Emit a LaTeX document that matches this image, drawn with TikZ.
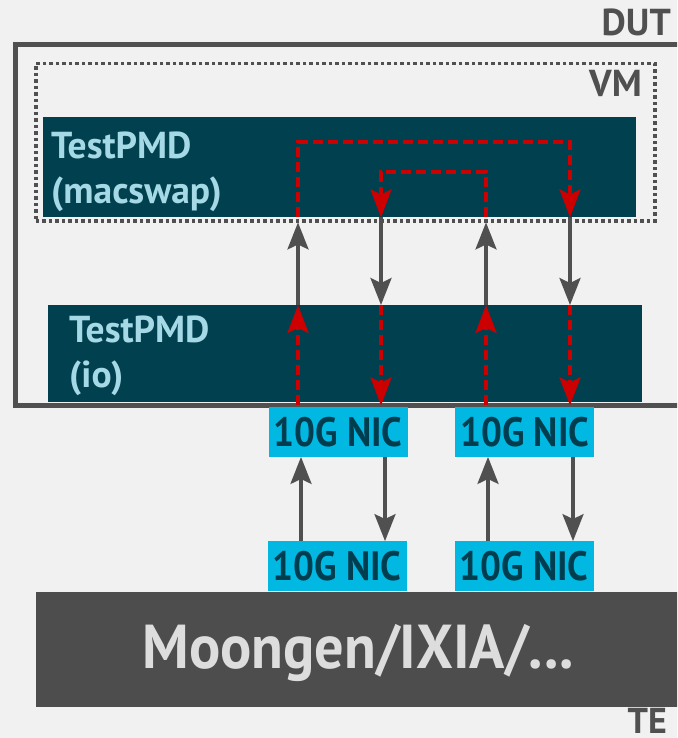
\documentclass[tikz,border=0pt]{standalone}
\usepackage{fontspec}
\setmainfont{PT Sans}
\usetikzlibrary{arrows.meta}
\definecolor{bgc}{HTML}{F1F1F1}
\definecolor{framec}{HTML}{505050}
\definecolor{tealc}{HTML}{01404F}
\definecolor{ltblue}{HTML}{A6D9E6}
\definecolor{cyanc}{HTML}{00B8E2}
\definecolor{nictext}{HTML}{003E4F}
\definecolor{redc}{HTML}{CC0000}
\definecolor{moonc}{HTML}{4D4D4D}
\definecolor{moontext}{HTML}{DDDDDD}
\newcommand{\nictxt}{\scalebox{0.9}[1]{10G NIC}}
\tikzset{
  pmdbox/.style={fill=tealc, draw=none, inner sep=0pt, anchor=north west},
  pmdtext/.style={text=ltblue, font=\bfseries\fontsize{37.5}{40}\selectfont, anchor=base west, inner sep=0pt},
  nicbox/.style={fill=cyanc, draw=none, inner sep=0pt, text=nictext, font=\bfseries\fontsize{41}{44}\selectfont, minimum width=139pt, minimum height=50pt},
  lbl/.style={text=framec, font=\bfseries\fontsize{37.5}{40}\selectfont, anchor=base east, inner sep=0pt},
  grayarrow/.style={draw=framec, line width=3.5pt, -{Stealth[length=27pt,width=21pt,inset=5pt]}},
  redarrow/.style={draw=redc, line width=3.5pt, dash pattern=on 10pt off 5pt, -{Stealth[length=28pt,width=21pt,inset=5pt]}},
}
\begin{document}
\begin{tikzpicture}[x=1pt,y=-1pt]
\useasboundingbox (0,0) rectangle (677,738);
\fill[bgc] (0,0) rectangle (677,738);
\clip (0,0) rectangle (677,738);
% DUT frame
\node[draw=framec, line width=5pt, inner sep=0pt, minimum width=700pt, minimum height=361pt, anchor=north west] (dut) at (13,42) {};
\node[lbl] (dutl) at (671,36) {DUT};
% PMD boxes
\node[pmdbox, minimum width=593pt, minimum height=100pt] (mac) at (43,117) {};
\node[pmdbox, minimum width=594pt, minimum height=97pt] (io) at (47.5,305) {};
% VM dotted
\node[draw=framec, line width=3.5pt, dash pattern=on 3.5pt off 3pt, inner sep=0pt, minimum width=619pt, minimum height=157pt, anchor=north west] (vm) at (34,62) {};
\node[lbl] (vml) at (642,97) {VM};
% texts
\node[pmdtext] (mac1) at (51,159) {TestPMD};
\node[pmdtext] (mac2) at (51,203) {(macswap)};
\node[pmdtext] (io1) at (69,342) {TestPMD};
\node[pmdtext] (io2) at (69,387) {(io)};
% NICs
\node[nicbox] (nic1) at (338,431.7) {\nictxt};
\node[nicbox] (nic2) at (524.8,431.7) {\nictxt};
\node[nicbox] (nic3) at (337,566.3) {\nictxt};
\node[nicbox] (nic4) at (524,566.3) {\nictxt};
% Moongen
\node[fill=moonc, inner sep=0pt, minimum width=700pt, minimum height=115pt, anchor=north west] (moon) at (35.4,591.7) {};
\node[text=moontext, font=\bfseries\fontsize{62}{66}\selectfont, anchor=base, inner sep=0pt] (moonl) at (358,668) {\scalebox{0.94}[1]{Moongen/IXIA/...}};
\node[lbl, font=\bfseries\fontsize{36}{40}\selectfont] (tel) at (667,733) {TE};
% column coordinates
\coordinate (ca) at (298,0);
\coordinate (cb) at (381,0);
\coordinate (cc) at (486,0);
\coordinate (cd) at (570,0);
\coordinate (la) at (301,0);
\coordinate (lb) at (385,0);
\coordinate (lc) at (488,0);
\coordinate (ld) at (573,0);
\coordinate (topa) at (298,142);
\coordinate (topd) at (570,142);
\coordinate (midc) at (486,172);
\coordinate (midb) at (381,172);
% gray arrows between boxes
\draw[grayarrow, shorten >=5pt] (io.north -| ca) -- (mac.south -| ca);
\draw[grayarrow] (mac.south -| cb) -- (io.north -| cb);
\draw[grayarrow, shorten >=5pt] (io.north -| cc) -- (mac.south -| cc);
\draw[grayarrow] (mac.south -| cd) -- (io.north -| cd);
% gray arrows between NICs
\draw[grayarrow] (nic3.north -| la) -- (nic1.south -| la);
\draw[grayarrow] (nic1.south -| lb) -- (nic3.north -| lb);
\draw[grayarrow] (nic4.north -| lc) -- (nic2.south -| lc);
\draw[grayarrow] (nic2.south -| ld) -- (nic4.north -| ld);
% red paths in macswap
\draw[redarrow] (mac.south -| ca) -- (topa) -- (topd) -- (mac.south -| cd);
\draw[redarrow] (mac.south -| cc) -- (midc) -- (midb) -- (mac.south -| cb);
% red paths in io
\draw[redarrow] ([yshift=-3pt]io.south -| ca) -- (io.north -| ca);
\draw[redarrow] (io.north -| cb) -- ([yshift=-3pt]io.south -| cb);
\draw[redarrow] ([yshift=-3pt]io.south -| cc) -- (io.north -| cc);
\draw[redarrow] (io.north -| cd) -- ([yshift=-3pt]io.south -| cd);
\end{tikzpicture}
\end{document}
